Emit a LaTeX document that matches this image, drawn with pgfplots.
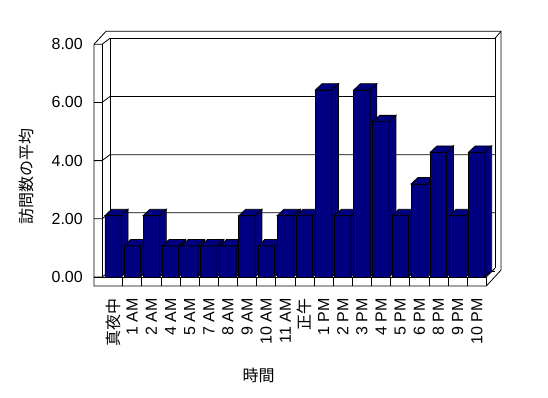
\documentclass[border=0pt]{standalone}
\usepackage{fontspec}
\setmainfont{Liberation Sans}
\newfontfamily\jp{Noto Sans CJK JP}
\usepackage{pgfplots}
\usepackage{pgfplotstable}
\pgfplotsset{compat=1.18}
\definecolor{navybar}{RGB}{0,0,128}

\pgfplotstableread{
x v
0 2.11
1 1.07
2 2.11
3 1.07
4 1.07
5 1.07
6 1.07
7 2.11
8 1.07
9 2.11
10 2.11
11 6.43
12 2.11
13 6.43
14 5.34
15 2.11
16 3.20
17 4.29
18 2.11
19 4.29
}\bardata

\newdimen\barH
\newdimen\barHb
\pgfdeclareplotmark{bar3d}{%
  \edef\bv{\pgfplotspointmeta}%
  \barH=\bv pt\relax
  \barH=29.09\barH
  \barHb=6.3pt\relax
  \advance\barHb by -\barH
  \pgfpathrectangle{\pgfqpoint{-8.2pt}{-\barH}}{\pgfqpoint{16.4pt}{\barH}}%
  \pgfusepathqfillstroke
  \pgfpathmoveto{\pgfqpoint{-8.2pt}{0pt}}%
  \pgfpathlineto{\pgfqpoint{8.2pt}{0pt}}%
  \pgfpathlineto{\pgfqpoint{14.9pt}{6.3pt}}%
  \pgfpathlineto{\pgfqpoint{-1.5pt}{6.3pt}}%
  \pgfpathclose
  \pgfusepathqfillstroke
  \pgfpathmoveto{\pgfqpoint{8.2pt}{0pt}}%
  \pgfpathlineto{\pgfqpoint{14.9pt}{6.3pt}}%
  \pgfpathlineto{\pgfqpoint{14.9pt}{\barHb}}%
  \pgfpathlineto{\pgfqpoint{8.2pt}{-\barH}}%
  \pgfpathclose
  \pgfusepathqfillstroke
}

\begin{document}
\begin{tikzpicture}
\path[use as bounding box] (0,0) rectangle (548pt,398pt);
\begin{axis}[
  at={(93.96pt,112pt)}, anchor=south west,
  x=19.14pt, y=29.09pt,
  xmin=-1, xmax=19.5, ymin=-0.309, ymax=8.45,
  clip=false,
  axis line style={draw=none},
  major tick length=0pt,
  xtick={0,...,19},
  xticklabels={{\jp 真夜中},1 AM,2 AM,4 AM,5 AM,7 AM,8 AM,9 AM,10 AM,11 AM,{\jp 正午},1 PM,2 PM,3 PM,4 PM,5 PM,6 PM,8 PM,9 PM,10 PM},
  ytick={0,2,4,6,8},
  yticklabels={0.00,2.00,4.00,6.00,8.00},
  xticklabel style={rotate=90, anchor=east, inner sep=0pt, font=\fontsize{16}{18}\selectfont},
  xticklabel shift=12pt,
  yticklabel style={anchor=east, inner sep=0pt, font=\fontsize{16}{18}\selectfont},
  yticklabel shift=11pt,
]
% frame: walls and floor
\draw[line width=0.8pt] (-1,-0.309) -- (-1,8) -- (-0.371,8.446) -- (20.27,8.446) -- (20.27,0.24) -- (19.5,-0.309) -- cycle;
\draw[line width=0.8pt] (-0.58,0) -- (-0.58,8);
\draw[line width=0.8pt] (-0.162,0.206) -- (-0.162,8.206) -- (19.95,8.206) -- (19.95,0.3);
\draw[line width=0.8pt] (19.95,8.206) -- (20.27,8.446);
\draw[line width=0.8pt] (-1,0) -- (-0.58,0) -- (-0.162,0.206);
\draw[line width=0.8pt] (-1,2) -- (-0.58,2) -- (-0.162,2.206) -- (19.95,2.206);
\draw[line width=0.8pt] (-1,4) -- (-0.58,4) -- (-0.162,4.206) -- (19.95,4.206);
\draw[line width=0.8pt] (-1,6) -- (-0.58,6) -- (-0.162,6.206) -- (19.95,6.206);
\draw[line width=0.8pt] (-1,8) -- (-0.58,8) -- (-0.162,8.206);
\draw[line width=0.8pt] (-0.162,0.206) -- (19.95,0.206);
\draw[line width=0.8pt] (-1,0) -- (19.5,0) -- (19.5,-0.309);
\draw[line width=0.8pt] (19.5,0) -- (19.95,0.3);
\pgfplotsinvokeforeach{0,...,18}{
  \draw[line width=0.8pt] (#1+0.5,0) -- (#1+0.5,-0.309);
}
\addplot[ybar, bar width=16.4pt, fill=navybar, draw=black, line width=0.8pt,
  scatter, point meta=explicit symbolic,
  scatter/@pre marker code/.code={\scope},
  scatter/@post marker code/.code={\endscope},
  mark=bar3d, mark options={fill=navybar, draw=black, line width=0.8pt}]
  table[x=x, y=v, meta=v] {\bardata};
\end{axis}
\node[rotate=90, font=\jp\fontsize{16}{18}\selectfont] at (26pt,221.5pt) {訪問数の平均};
\node[font=\jp\fontsize{16}{18}\selectfont] at (258.5pt,23pt) {時間};
\end{tikzpicture}
\end{document}
